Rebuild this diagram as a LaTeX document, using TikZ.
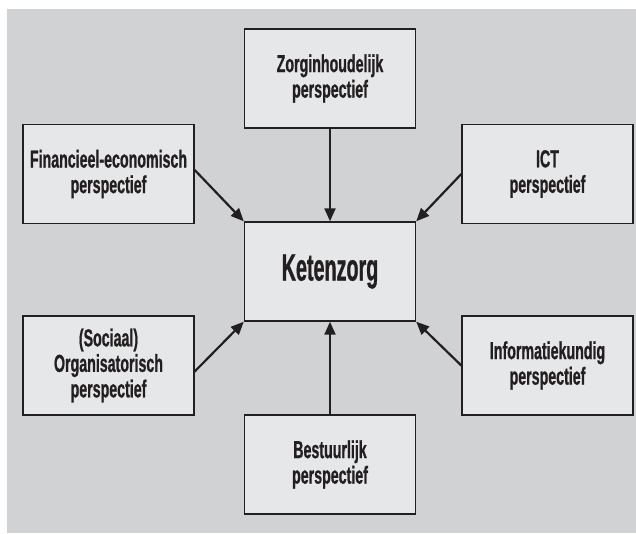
\documentclass[tikz,border=0pt]{standalone}
\usepackage{fontspec}
\setmainfont{Liberation Sans}[FakeStretch=0.58, FakeBold=0.8]
\newfontfamily\bigfont{Liberation Sans}[FakeStretch=0.52, FakeBold=0.8]
\usetikzlibrary{arrows.meta}
\definecolor{bggray}{HTML}{D1D2D4}
\definecolor{boxgray}{HTML}{E6E7E8}
\definecolor{inkdark}{HTML}{231F20}
\tikzset{
  persp/.style={draw=inkdark, line width=1.4pt, fill=boxgray, text=inkdark, align=center,
    minimum width=171pt, minimum height=99pt, inner sep=0pt,
    font=\fontsize{24.5}{25.5}\selectfont\bfseries},
  arr/.style={draw=inkdark, line width=2.2pt, -{Triangle[length=13pt,width=11pt]}}
}
\begin{document}
\begin{tikzpicture}[x=1pt, y=1pt]
\useasboundingbox (0,0) rectangle (636,-533);
\fill[bggray] (7,-9) rectangle (636,-533);
\node[persp] (zorg) at (330,-78.5) {Zorginhoudelijk\\perspectief};
\node[persp] (fin) at (108.5,-174) {Financieel-economisch\\perspectief};
\node[persp] (ict) at (547.5,-174) {ICT\\perspectief};
\node[persp, font=\fontsize{38}{39}\bigfont\bfseries] (keten) at (330,-271.5) {Ketenzorg};
\node[persp] (soc) at (108.5,-365.5) {(Sociaal)\\Organisatorisch\\perspectief};
\node[persp] (info) at (547.5,-365.5) {Informatiekundig\\perspectief};
\node[persp] (best) at (330,-464.5) {Bestuurlijk\\perspectief};
\draw[arr] (zorg) -- (keten);
\draw[arr] ([yshift=4pt]fin.east) -- (keten.north west);
\draw[arr] (ict.west) -- (keten.north east);
\draw[arr] ([yshift=-6pt]soc.east) -- (keten.south west);
\draw[arr] (info.west) -- (keten.south east);
\draw[arr] (best) -- (keten);
\end{tikzpicture}
\end{document}
